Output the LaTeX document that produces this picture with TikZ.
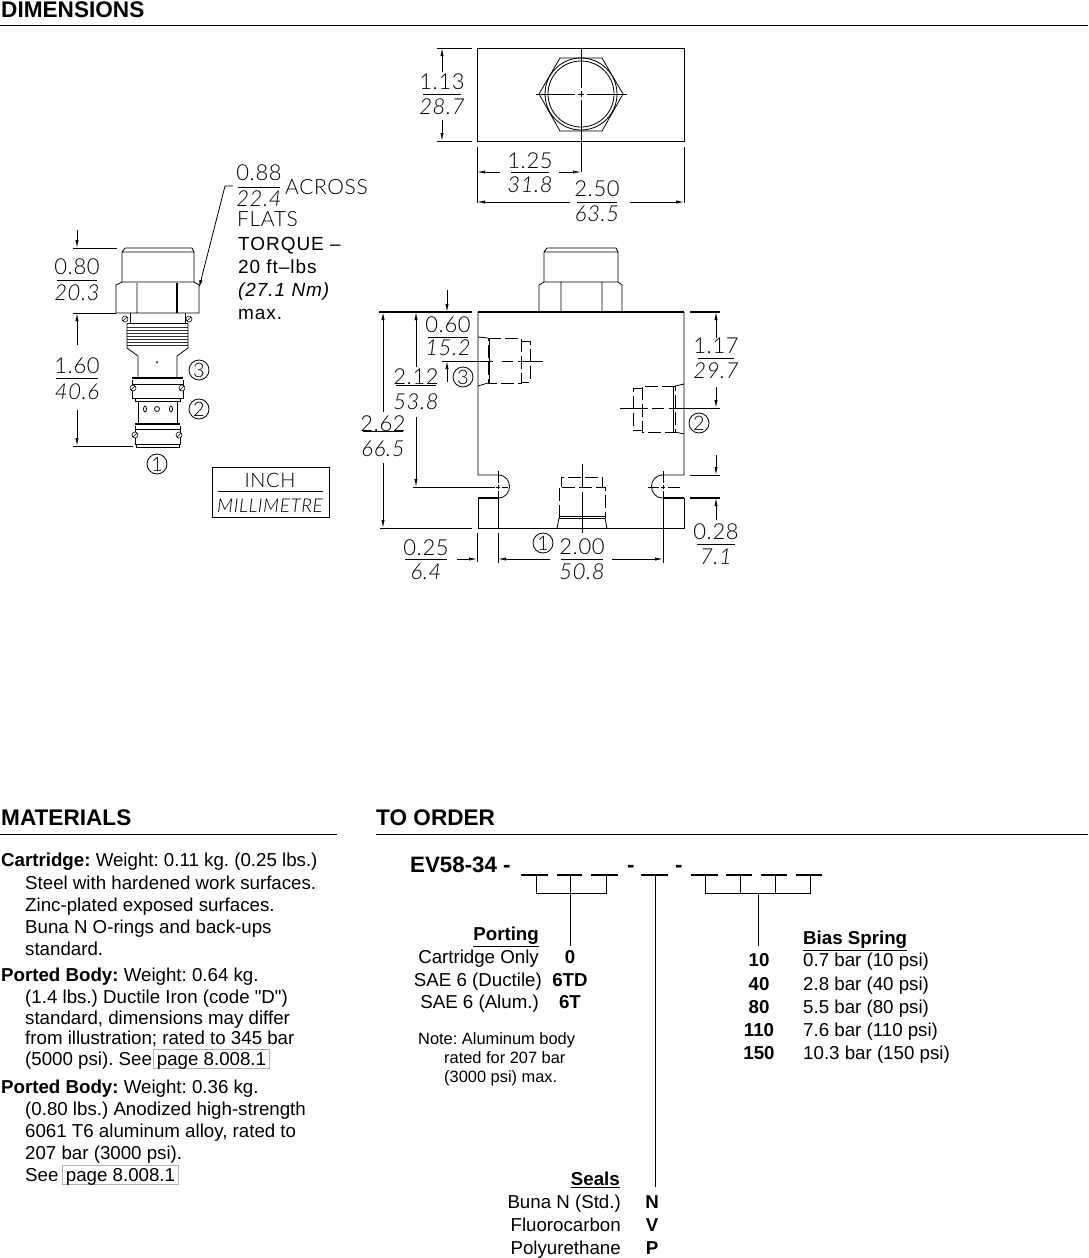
\documentclass[tikz,border=0pt]{standalone}
\usepackage{fontspec}
\setmainfont{Liberation Sans}
\newfontfamily\plain{Liberation Sans}
\newfontfamily\plainw[LetterSpace=5]{Liberation Sans}
\newfontfamily\cad[LetterSpace=3,UprightFont={* Light},ItalicFont={* Light Italic}]{Lato}
\usetikzlibrary{arrows.meta}
\frenchspacing
\tikzset{
 x=1pt,y=-1pt,
 ln/.style={line width=0.8pt,black},
 thk/.style={line width=1.5pt,black},
 hid/.style={line width=0.8pt,black,dash pattern=on 13pt off 4pt},
 dm/.style={line width=0.8pt,black,-{Latex[length=8pt,width=3.2pt]}},
 num/.style={font=\cad\fontsize{22}{22}\selectfont,inner sep=0pt,anchor=center,text height=15pt,text depth=0pt},
 numi/.style={font=\cad\itshape\fontsize{22}{22}\selectfont,inner sep=0pt,anchor=center,text height=15pt,text depth=0pt},
 note/.style={font=\plainw\fontsize{19}{19}\selectfont,inner sep=0pt,anchor=west,text height=14pt,text depth=0pt},
 notel/.style={font=\cad\fontsize{21}{21}\selectfont,inner sep=0pt,anchor=west,text height=14pt,text depth=0pt},
 cnum/.style={draw,circle,line width=0.8pt,minimum size=20pt,inner sep=0pt,font=\cad\fontsize{20}{20}\selectfont},
 head/.style={font=\bfseries\fontsize{22.6}{22.6}\selectfont,inner sep=0pt,anchor=west,text height=16pt,text depth=0pt},
 body/.style={font=\fontsize{18.7}{18.7}\selectfont,inner sep=0pt,anchor=west,text height=13.5pt,text depth=0pt},
 bodyr/.style={font=\fontsize{18.7}{18.7}\selectfont,inner sep=0pt,anchor=east,text height=13.5pt,text depth=0pt},
 bodyb/.style={font=\bfseries\fontsize{18.7}{18.7}\selectfont,inner sep=0pt,anchor=center,text height=13.5pt,text depth=0pt},
 bhead/.style={font=\bfseries\fontsize{18.7}{18.7}\selectfont,inner sep=0pt,text height=13.5pt,text depth=0pt},
 evt/.style={font=\bfseries\fontsize{22.3}{22.3}\selectfont,inner sep=0pt,anchor=west,text height=15pt,text depth=0pt},
 small/.style={font=\fontsize{16.4}{16.4}\selectfont,inner sep=0pt,anchor=west,text height=11.5pt,text depth=0pt},
 pagebox/.style={draw=black!30,line width=1.4pt,inner xsep=3.5pt,inner ysep=3pt,anchor=center,font=\fontsize{18.7}{18.7}\selectfont,text height=13.5pt,text depth=0pt},
}
\newcommand\Fr[8]{% name x yrule halfwidth ytop ybot top bot
 \node[num] (#1t) at (#2,#5) {#7};
 \node[numi] (#1b) at (#2,#6) {#8};
 \draw[line width=1pt] ({#2-#4},#3) -- ({#2+#4},#3);
}
\begin{document}
\begin{tikzpicture}
\useasboundingbox (0,0) rectangle (1088,1258);
\fill[white] (0,0) rectangle (1088,1258);
% headers
\node[head] (hdim) at (1,9) {DIMENSIONS};
\draw[ln] (0,25) -- (1088,25);
\node[head] (hmat) at (1,817) {MATERIALS};
\draw[ln] (0,834) -- (337,834);
\node[head] (hord) at (376,817) {TO ORDER};
\draw[ln] (376,834) -- (1088,834);
% ---------- top view
\draw[ln] (477,48) rectangle (684,141);
\draw[ln] (539,94) -- (560,58) -- (602,58) -- (623,94) -- (602,131) -- (560,131) -- cycle;
\draw[ln] (581,94) circle[radius=33pt];
\draw[ln] (581,94) circle[radius=36pt];
\draw[ln] (536,94) -- (575,94) (578,94) -- (584,94) (587,94) -- (627,94);
\draw[ln] (581,48) -- (581,88) (581,91) -- (581,97) (581,100) -- (581,172);
\draw[ln] (437,48) -- (472,48) (437,141) -- (472,141);
\draw[dm] (442,72) -- (442,48);
\draw[dm] (442,120) -- (442,141);
\Fr{a}{442}{94}{19}{82}{107}{1.13}{28.7}
\draw[ln] (477,147) -- (477,203) (684,147) -- (684,203);
\draw[dm] (500,172) -- (477,172);
\draw[dm] (559,172) -- (581,172);
\Fr{b}{530}{172}{19}{161}{185}{1.25}{31.8}
\draw[dm] (570,202) -- (477,202);
\draw[dm] (630,202) -- (684,202);
\Fr{c}{597}{202}{20}{189}{214}{2.50}{63.5}
% ---------- front view
\draw[ln] (547,248) -- (616,248) -- (618,252) -- (618,282) (547,248) -- (544,252) -- (544,282) (544,252) -- (618,252);
\draw[ln] (539,312) -- (539,285) -- (544,282) -- (618,282) -- (622,285) -- (622,312) (561,282) -- (561,312) (602,282) -- (602,312);
\draw[thk] (478,312) -- (684,312);
\draw[ln] (478,312) -- (478,475) -- (498,475) .. controls (513.3,475) and (513.3,498) .. (498,498);
\draw[thk] (498,498) -- (478,498);
\draw[ln] (478,498) -- (478,528) -- (684,528) -- (684,498);
\draw[thk] (684,498) -- (663,498);
\draw[ln] (663,498) .. controls (647.7,498) and (647.7,475) .. (663,475) -- (684,475) -- (684,312);
% notches
\draw[ln] (498,471) -- (498,483) (498,485) -- (498,489) (498,491) -- (498,528);
\draw[ln] (489,487) -- (495,487) (496,487) -- (500,487) (502,487) -- (508,487);
\draw[ln] (413,487) -- (493,487);
\draw[ln] (663,471) -- (663,483) (663,485) -- (663,489) (663,491) -- (663,528);
\draw[ln] (648,487) -- (659,487) (661,487) -- (665,487) (668,487) -- (680,487);
% port 3
\draw[ln] (478,337) -- (488,338) (478,386) -- (488,383);
\draw[hid] (488,338) -- (521,338) -- (521,383) -- (488,383) -- cycle;
\draw[ln] (489.5,339) -- (489.5,383);
\draw[hid] (521,341) -- (530,341) -- (530,382) -- (521,382);
\draw[ln] (442,361) -- (493,361) (502,361) -- (513,361) (518,361) -- (543,361);
% port 2
\draw[ln] (684,384) -- (675,386) (684,434) -- (675,432);
\draw[hid] (675,386) -- (642,386) -- (642,432) -- (675,432) -- cycle;
\draw[ln] (673.5,387) -- (673.5,432);
\draw[hid] (642,388) -- (633,388) -- (633,430) -- (642,430);
\draw[ln] (620,408) -- (648,408) (652,408) -- (664,408) (669,408) -- (720,408);
% port 1
\draw[ln] (557,528) -- (559,518) (607,528) -- (605,518);
\draw[hid] (559,518) -- (559,487) -- (605,487) -- (605,518);
\draw[ln] (559,518) -- (605,518) (559,516) -- (605,516);
\draw[hid] (561,487) -- (561,477) -- (602,477) -- (602,487);
\draw[ln] (582,464) -- (582,488) (582,492) -- (582,533);
% left dims
\draw[thk] (379,312) -- (472,312);
\draw[ln] (380,528) -- (472,528);
\draw[dm] (383,412) -- (383,312);
\draw[dm] (383,463) -- (383,528);
\Fr{d}{383}{431}{20}{424}{449}{2.62}{66.5}
\draw[dm] (416,367) -- (416,312);
\draw[dm] (416,417) -- (416,487);
\Fr{e}{416}{385}{20}{377}{402}{2.12}{53.8}
\draw[dm] (447,290) -- (447,312);
\draw[dm] (447,382) -- (447,361);
\Fr{f}{448}{337}{20}{325}{348}{0.60}{15.2}
\node[cnum] (p3a) at (463,377) {3};
% right dims
\draw[thk] (690,312) -- (720,312);
\draw[dm] (716,338) -- (716,312);
\draw[dm] (716,387) -- (716,408);
\Fr{g}{716}{358}{18}{346}{371}{1.17}{29.7}
\node[cnum] (p2a) at (699,423) {2};
\draw[ln] (690,475) -- (720,475);
\draw[thk] (690,498) -- (720,498);
\draw[dm] (716,455) -- (716,475);
\draw[dm] (716,520) -- (716,498);
\Fr{h}{716}{544}{19}{532}{557}{0.28}{7.1}
% bottom dims
\draw[ln] (477,533) -- (477,562) (498,533) -- (498,563) (663,528) -- (663,563);
\draw[dm] (457,559) -- (477,559);
\Fr{i}{426}{559}{21}{548}{572}{0.25}{6.4}
\draw[dm] (550,559) -- (498,559);
\draw[dm] (612,559) -- (663,559);
\Fr{j}{582}{559}{21}{547}{572}{2.00}{50.8}
\node[cnum] (p1a) at (543,543) {1};
% ---------- cartridge
\draw[ln] (125,248) -- (192,248) -- (194,252) -- (194,282) (125,248) -- (122,252) -- (122,282) (122,252) -- (194,252);
\draw[ln] (116,285) -- (122,282) -- (194,282) -- (199,285) -- (199,313) -- (116,313) -- cycle (137,283) -- (137,313);
\draw[line width=1.2pt] (177,283) -- (177,313);
\draw[ln] (130,313) -- (130,323) (185,313) -- (185,323) (130,323) -- (185,323) (127,323) -- (188,323);
\foreach \yy in {327,330,333,336,339,342,345} \draw[line width=0.7pt,black!80] (127,\yy) -- (188,\yy);
\draw[ln] (127,323) -- (127,348) -- (138,356) -- (138,377) (188,323) -- (188,348) -- (177,356) -- (177,377);
\foreach \xx/\yy in {125/319,189/319} \draw[line width=0.6pt,fill=white] (\xx,\yy) circle[radius=3pt] (\xx-2,\yy+2) -- (\xx+2,\yy-2);
\fill (157,362) circle[radius=1pt];
\draw[thk] (132,378) -- (183,378);
\draw[ln] (132,380) -- (132,398) -- (183,398) -- (183,380) (132,384) -- (183,384) (135,398) -- (135,401) -- (180,401) -- (180,398);
\draw[ln] (138,401) -- (138,424) (177,401) -- (177,424);
\draw[ln] (157,409) circle[radius=2.5pt];
\draw[ln] (145,409) ellipse[x radius=1.5pt,y radius=3pt];
\draw[ln] (171,409) ellipse[x radius=1.5pt,y radius=3pt];
\draw[thk] (135,424) -- (180,424);
\draw[ln] (135,426) -- (135,444) -- (180,444) -- (180,426) (135,429) -- (180,429) (136,444) -- (136,447) -- (179,447) -- (179,444);
\foreach \xx/\yy in {133/388,182/388,135/435,179/435} \draw[line width=0.6pt,fill=white] (\xx,\yy) circle[radius=3pt] (\xx-2,\yy+2) -- (\xx+2,\yy-2);
% cartridge dims
\draw[ln] (73,248) -- (117,248) (73,313) -- (116,313) (73,446) -- (133,446);
\draw[dm] (77,230) -- (77,248);
\draw[dm] (77,345) -- (77,313);
\draw[dm] (77,410) -- (77,446);
\Fr{k}{77}{280}{20}{267}{293}{0.80}{20.3}
\Fr{l}{77}{378}{21}{366}{392}{1.60}{40.6}
\Fr{m}{259}{187}{21}{173}{199}{0.88}{22.4}
\coordinate (lead) at (233,186);
\draw[dm] (lead) -- (225,186) -- (199,288);
\node[notel] (across) at (285,187) {ACROSS};
\node[notel] (flats) at (237,219) {FLATS};
\node[note] (torque) at (238,243) {TORQUE –};
\node[note] (ftlb) at (238,266) {20 ft–lbs};
\node[note,font=\plainw\itshape\fontsize{19}{19}\selectfont] (nm) at (238,289) {(27.1 Nm)};
\node[note] (maxx) at (238,312) {max.};
\node[cnum] (p3) at (199,370) {3};
\node[cnum] (p2) at (199,409) {2};
\node[cnum] (p1) at (157,464) {1};
\node[draw,line width=0.8pt,minimum width=117pt,minimum height=50pt,inner sep=0pt] (ibox) at (270.5,492) {};
\draw[line width=1pt] (218,491.5) -- (323,491.5);
\node[num,font=\cad\fontsize{20}{20}\selectfont] (inch) at (270,480) {INCH};
\node[numi,font=\cad\itshape\fontsize{19}{19}\selectfont] (mm) at (270,505) {MILLIMETRE};
% ---------- materials
\node[body] (t1) at (1,860) {\textbf{Cartridge:} Weight: 0.11 kg. (0.25 lbs.)};
\node[body] (t2) at (25,883) {Steel with hardened work surfaces.};
\node[body] (t3) at (25,905) {Zinc-plated exposed surfaces.};
\node[body] (t4) at (25,927) {Buna N O-rings and back-ups};
\node[body] (t5) at (25,949) {standard.};
\node[body] (t6) at (1,975) {\textbf{Ported Body:} Weight: 0.64 kg.};
\node[body] (t7) at (25,997) {(1.4 lbs.) Ductile Iron (code {\plain"}D{\plain"})};
\node[body] (t8) at (25,1018) {standard, dimensions may differ};
\node[body] (t9) at (25,1038) {from illustration; rated to 345 bar};
\node[body] (t10) at (25,1059) {(5000 psi). See};
\node[pagebox] (pb1) at (211.5,1059) {page 8.008.1};
\node[body] (t11) at (1,1087) {\textbf{Ported Body:} Weight: 0.36 kg.};
\node[body] (t12) at (25,1109) {(0.80 lbs.) Anodized high-strength};
\node[body] (t13) at (25,1131) {6061 T6 aluminum alloy, rated to};
\node[body] (t14) at (25,1153) {207 bar (3000 psi).};
\node[body] (t15) at (25,1175) {See};
\node[pagebox] (pb2) at (120.5,1175) {page 8.008.1};
% ---------- to order
\node[evt] (ev) at (410,865) {EV58-34 -};
\node[evt] (da) at (627,865) {-};
\node[evt] (db) at (675,865) {-};
\foreach \a/\b in {521/548,557/582,591/618,641/668,691/718,726/752,761/787,796/822}
  \draw[line width=1.4pt] (\a,875) -- (\b,875);
\draw[ln] (536,875) -- (536,893) -- (606,893) -- (606,875) (570,875) -- (570,946);
\draw[ln] (655,875) -- (655,1187);
\draw[ln] (705,875) -- (705,893) -- (810,893) -- (810,875) (740,875) -- (740,893) (775,875) -- (775,893) (758,893) -- (758,946);
\node[bhead,anchor=east] (port) at (539,934) {\underline{Porting}};
\node[bodyr] (po1) at (539,957) {Cartridge Only};
\node[bodyr] (po2) at (542,980) {SAE 6 (Ductile)};
\node[bodyr] (po3) at (539,1002) {SAE 6 (Alum.)};
\node[bodyb] (pc1) at (570,957) {0};
\node[bodyb] (pc2) at (570,980) {6TD};
\node[bodyb] (pc3) at (570,1002) {6T};
\node[small] (n1) at (418,1039) {Note: Aluminum body};
\node[small] (n2) at (444,1058) {rated for 207 bar};
\node[small] (n3) at (444,1077) {(3000 psi) max.};
\node[bhead,anchor=west] (bias) at (803,938) {\underline{Bias Spring}};
\foreach \c/\v/\yy/\nm in {10/0.7 bar (10 psi)/960/a,40/2.8 bar (40 psi)/984/b,80/5.5 bar (80 psi)/1007/c,110/7.6 bar (110 psi)/1030/d,150/10.3 bar (150 psi)/1053/e}{
  \node[bodyb] (bc\nm) at (759,\yy) {\c};
  \node[body] (bv\nm) at (803,\yy) {\v};
}
\node[bhead,anchor=east] (seal) at (620,1179) {\underline{Seals}};
\node[bodyr] (s1) at (621,1202) {Buna N (Std.)};
\node[bodyr] (s2) at (621,1225) {Fluorocarbon};
\node[bodyr] (s3) at (621,1248) {Polyurethane};
\node[bodyb] (sa) at (652,1202) {N};
\node[bodyb] (sb) at (652,1225) {V};
\node[bodyb] (sc) at (652,1248) {P};
\end{tikzpicture}
\end{document}
